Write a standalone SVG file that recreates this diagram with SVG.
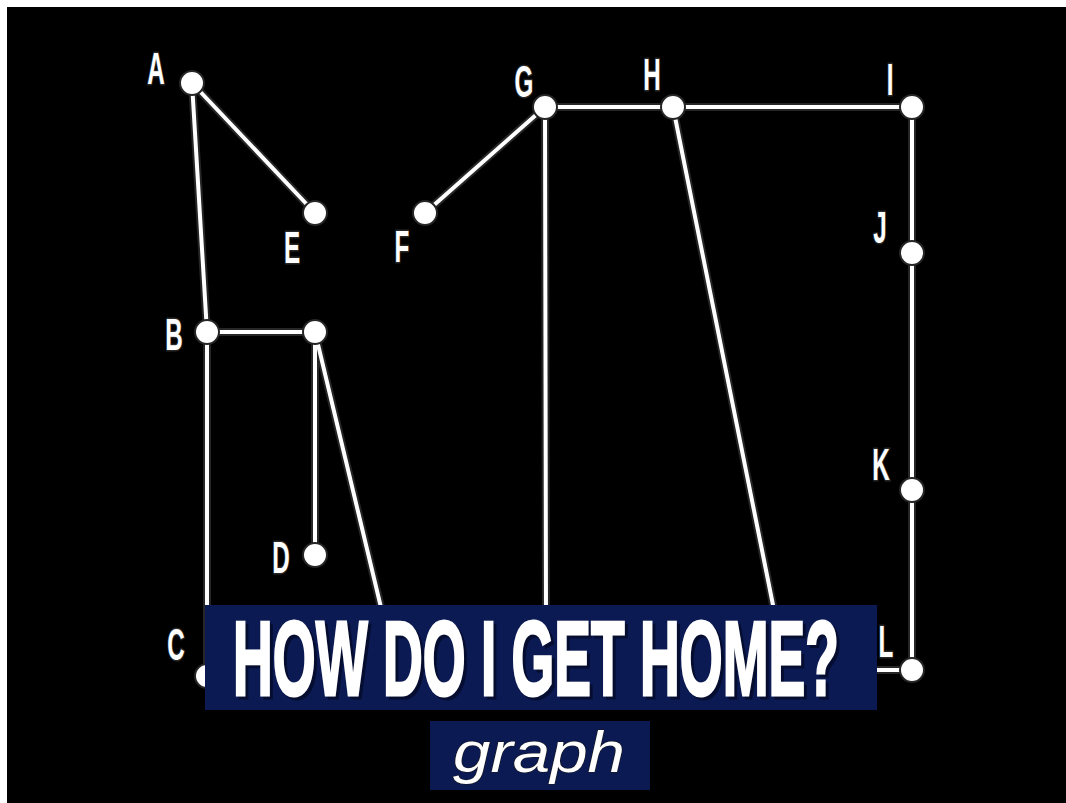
<svg xmlns="http://www.w3.org/2000/svg" width="1066" height="803" viewBox="0 0 1066 803">
  <style>
    .edge-glow { stroke: #262626; stroke-width: 8; fill: none; stroke-linecap: round; }
    .edge { stroke: #ffffff; stroke-width: 4; fill: none; stroke-linecap: round; }
    .node circle { fill: #ffffff; stroke: #262626; stroke-width: 2; }
    .lbl { font-family: "Liberation Sans", Arial, sans-serif; font-weight: bold; font-size: 44px; fill: #ffffff; stroke: #262626; stroke-width: 3; paint-order: stroke; text-anchor: middle; }
    .title { font-family: "Liberation Sans", Arial, sans-serif; font-weight: bold; font-size: 105px; fill: #ffffff; stroke: #ffffff; stroke-width: 3; }
    .title-sh { font-family: "Liberation Sans", Arial, sans-serif; font-weight: bold; font-size: 105px; fill: #050d30; stroke: #050d30; stroke-width: 3; }
    .sub { font-family: "Liberation Sans", Arial, sans-serif; font-style: italic; font-size: 58px; fill: #ffffff; stroke: #1a1a1a; stroke-width: 1; paint-order: stroke; }
    .banner { fill: #0b1a52; }
  </style>
  <rect x="0" y="0" width="1066" height="803" fill="#ffffff"/>
  <rect x="7" y="7" width="1059" height="796" fill="#000000"/>

  <g id="connectors">
    <g class="edge-glow">
      <line x1="192" y1="83" x2="315" y2="213"/>
      <line x1="192" y1="83" x2="207" y2="332"/>
      <line x1="207" y1="332" x2="315" y2="332"/>
      <line x1="315" y1="332" x2="315" y2="555"/>
      <line x1="315" y1="332" x2="384" y2="620"/>
      <line x1="207" y1="332" x2="207" y2="676"/>
      <line x1="425" y1="213" x2="545" y2="107"/>
      <line x1="545" y1="107" x2="912" y2="107"/>
      <line x1="545" y1="107" x2="546" y2="620"/>
      <line x1="673" y1="107" x2="776" y2="620"/>
      <line x1="912" y1="107" x2="912" y2="670"/>
      <line x1="912" y1="670" x2="860" y2="670"/>
    </g>
    <g class="edge">
      <line x1="192" y1="83" x2="315" y2="213"/>
      <line x1="192" y1="83" x2="207" y2="332"/>
      <line x1="207" y1="332" x2="315" y2="332"/>
      <line x1="315" y1="332" x2="315" y2="555"/>
      <line x1="315" y1="332" x2="384" y2="620"/>
      <line x1="207" y1="332" x2="207" y2="676"/>
      <line x1="425" y1="213" x2="545" y2="107"/>
      <line x1="545" y1="107" x2="912" y2="107"/>
      <line x1="545" y1="107" x2="546" y2="620"/>
      <line x1="673" y1="107" x2="776" y2="620"/>
      <line x1="912" y1="107" x2="912" y2="670"/>
      <line x1="912" y1="670" x2="860" y2="670"/>
    </g>
  </g>

  <g id="node-A" class="node"><circle cx="192" cy="83" r="12"/><text class="lbl" transform="translate(156 84) scale(0.55 1)">A</text></g>
  <g id="node-B" class="node"><circle cx="207" cy="332" r="12"/><text class="lbl" transform="translate(174 350) scale(0.55 1)">B</text></g>
  <g id="node-B2" class="node"><circle cx="315" cy="332" r="12"/></g>
  <g id="node-C" class="node"><circle cx="207" cy="676" r="12"/><text class="lbl" transform="translate(176 660) scale(0.55 1)">C</text></g>
  <g id="node-D" class="node"><circle cx="315" cy="555" r="12"/><text class="lbl" transform="translate(281 573) scale(0.55 1)">D</text></g>
  <g id="node-E" class="node"><circle cx="315" cy="213" r="12"/><text class="lbl" transform="translate(292 263) scale(0.55 1)">E</text></g>
  <g id="node-F" class="node"><circle cx="425" cy="213" r="12"/><text class="lbl" transform="translate(402 262) scale(0.55 1)">F</text></g>
  <g id="node-G" class="node"><circle cx="545" cy="107" r="12"/><text class="lbl" transform="translate(524 97) scale(0.55 1)">G</text></g>
  <g id="node-H" class="node"><circle cx="673" cy="107" r="12"/><text class="lbl" transform="translate(652 90) scale(0.55 1)">H</text></g>
  <g id="node-I" class="node"><circle cx="912" cy="107" r="12"/><text class="lbl" transform="translate(890 95) scale(0.55 1)">I</text></g>
  <g id="node-J" class="node"><circle cx="912" cy="253" r="12"/><text class="lbl" transform="translate(880 243) scale(0.55 1)">J</text></g>
  <g id="node-K" class="node"><circle cx="912" cy="490" r="12"/><text class="lbl" transform="translate(881 480) scale(0.55 1)">K</text></g>
  <g id="node-L" class="node"><circle cx="912" cy="670" r="12"/><text class="lbl" transform="translate(886 657) scale(0.55 1)">L</text></g>

  <g id="title-banner">
    <rect class="banner" x="205" y="605" width="672" height="105"/>
    <text class="title-sh" x="236" y="698" textLength="606" lengthAdjust="spacingAndGlyphs">HOW DO I GET HOME?</text>
    <text class="title" x="233" y="695" textLength="606" lengthAdjust="spacingAndGlyphs">HOW DO I GET HOME?</text>
  </g>
  <g id="subtitle-banner">
    <rect class="banner" x="430" y="721" width="220" height="69"/>
    <text class="sub" x="453" y="772" textLength="172" lengthAdjust="spacingAndGlyphs">graph</text>
  </g>
</svg>
